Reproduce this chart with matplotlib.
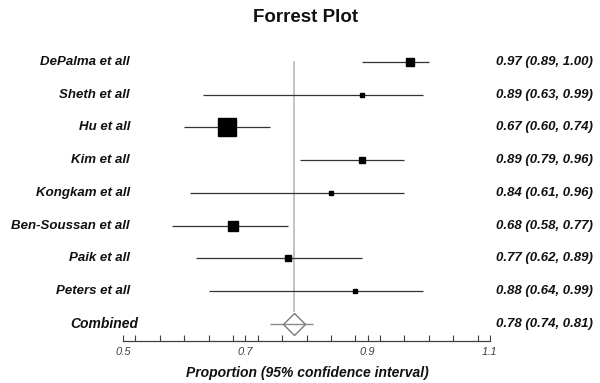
import numpy as np
import matplotlib
matplotlib.use("Agg")
import matplotlib.pyplot as plt
from matplotlib.ticker import MultipleLocator, FixedLocator
import matplotlib.transforms as mtransforms

studies = ["DePalma et all", "Sheth et all", "Hu et all", "Kim et all",
           "Kongkam et all", "Ben-Soussan et all", "Paik et all", "Peters et all"]
estimates = [0.97, 0.89, 0.67, 0.89, 0.84, 0.68, 0.77, 0.88]
lower = [0.89, 0.63, 0.60, 0.79, 0.61, 0.58, 0.62, 0.64]
upper = [1.00, 0.99, 0.74, 0.96, 0.96, 0.77, 0.89, 0.99]
weights = [9.5, 1.4, 51.0, 7.4, 3.0, 16.5, 7.4, 2.4]  # relative study weights (%)

combined_label = "Combined"
combined_est = 0.78
combined_lo = 0.74
combined_hi = 0.81

xticks_major = [0.5, 0.7, 0.9, 1.1]
xtick_labels = ["0.5", "0.7", "0.9", "1.1"]

FONT = "Liberation Sans"

fig = plt.figure(figsize=(6.0, 3.83), dpi=100)
ax = fig.add_axes([0.205, 0.1097, 0.6117, 0.7713])

n = len(studies)
rows = np.arange(n)
comb_row = n

# reference line
ax.vlines(combined_est, comb_row - 0.35, -0.02, color="#b4b4b4", lw=1.1, zorder=1)

# study CIs and boxes
for i in range(n):
    ax.hlines(rows[i], lower[i], upper[i], color="#333333", lw=0.9, zorder=2)
    ax.plot(estimates[i], rows[i], marker="s", color="black",
            markersize=1.85 * np.sqrt(weights[i]), zorder=3, linestyle="none")

# combined
ax.hlines(comb_row, combined_lo, combined_hi, color="#8a8a8a", lw=1.0, zorder=2)
ax.plot(combined_est, comb_row, marker="D", markersize=11.5, mfc="none",
        mec="#7a7a7a", mew=1.0, zorder=3, linestyle="none")

ax.set_xlim(0.5, 1.1)
ax.set_ylim(n + 0.52, -0.5)

for s in ["top", "left", "right"]:
    ax.spines[s].set_visible(False)
ax.spines["bottom"].set_color("#404040")
ax.spines["bottom"].set_linewidth(0.9)
ax.set_yticks([])
ax.xaxis.set_major_locator(FixedLocator(xticks_major))
ax.set_xticklabels(xtick_labels, fontfamily=FONT, fontstyle="italic",
                   fontsize=8, color="#404040")
ax.xaxis.set_minor_locator(MultipleLocator(0.04))
ax.tick_params(axis="x", which="both", direction="in", length=4.5,
               width=0.8, color="#404040", pad=4)

# labels
trans_l = mtransforms.blended_transform_factory(ax.transAxes, ax.transData)
for i in range(n):
    ax.text(0.019, rows[i], studies[i], transform=trans_l, ha="right", va="center",
            fontfamily=FONT, fontweight="bold", fontstyle="italic", fontsize=9.5,
            color="#111111")
    ax.text(1.016, rows[i], f"{estimates[i]:.2f} ({lower[i]:.2f}, {upper[i]:.2f})",
            transform=trans_l, ha="left", va="center",
            fontfamily=FONT, fontweight="bold", fontstyle="italic", fontsize=9.5,
            color="#111111")
ax.text(0.043, comb_row, combined_label, transform=trans_l, ha="right", va="center",
        fontfamily=FONT, fontweight="bold", fontstyle="italic", fontsize=10,
        color="#111111")
ax.text(1.016, comb_row, f"{combined_est:.2f} ({combined_lo:.2f}, {combined_hi:.2f})",
        transform=trans_l, ha="left", va="center",
        fontfamily=FONT, fontweight="bold", fontstyle="italic", fontsize=9.5,
        color="#111111")

fig.text(0.51, 1 - 18 / 383, "Forrest Plot", ha="center", va="center",
         fontfamily=FONT, fontweight="bold", fontsize=13.5, color="#111111")
fig.text(0.512, 1 - 373 / 383, "Proportion (95% confidence interval)",
         ha="center", va="center", fontfamily=FONT, fontweight="bold",
         fontstyle="italic", fontsize=10, color="#111111")

fig.savefig("out.png", dpi=100)
